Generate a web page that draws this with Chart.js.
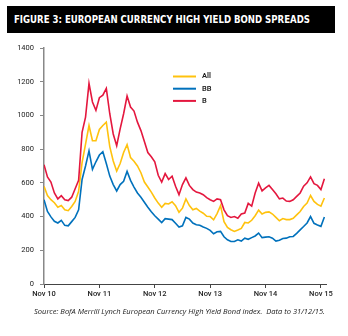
<!DOCTYPE html>
<html lang="en">
<head>
    <meta charset="UTF-8">
    <title>European Currency High Yield Bond Spreads</title>
    <script src="https://cdn.jsdelivr.net/npm/chart.js"></script>
    <style>
        html, body { margin: 0; padding: 0; background: #fff; }
        .wrap { position: relative; width: 348px; height: 336px; overflow: hidden; }
        .title {
            position: absolute; left: 7px; top: 6px; width: 328px; height: 27px;
            background: #000; overflow: hidden;
        }
        .title span {
            position: absolute; left: 7px; top: 0; line-height: 27px;
            color: #fff; font-family: "DejaVu Sans Condensed", "DejaVu Sans", sans-serif;
            font-weight: bold; font-size: 11px; white-space: nowrap;
            transform-origin: left center;
        }
        .source {
            position: absolute; left: 34px; top: 305px; line-height: 12px;
            font-family: "Open Sans", sans-serif; font-style: italic;
            font-size: 7.5px; color: #222; white-space: nowrap;
            transform-origin: left center;
        }
        #spreadChart { position: absolute; left: 0; top: 0; }
    </style>
</head>
<body>
<div class="wrap">
    <canvas id="spreadChart" width="348" height="336"></canvas>
    <div class="title"><span id="titleText">FIGURE 3: EUROPEAN CURRENCY HIGH YIELD BOND SPREADS</span></div>
    <div class="source" id="sourceText">Source: BofA Merrill Lynch European Currency High Yield Bond index.&nbsp;&nbsp;Data to 31/12/15.</div>
</div>

<script>
    // x axis: one tick per year, data sampled every 0.75 months from Nov 2010
    var tickLabels = ['Nov 10', 'Nov 11', 'Nov 12', 'Nov 13', 'Nov 14', 'Nov 15'];
    var stepMonths = 0.75;

    // spreads in basis points
    var allSeries = [
        580, 525, 500, 482, 455, 465, 440, 435, 460, 490,
        550, 720, 830, 940, 850, 850, 917, 940, 960, 815,
        730, 670, 715, 780, 827, 750, 728, 700, 660, 605,
        575, 545, 510, 480, 455, 478, 475, 488, 465, 425,
        450, 505, 465, 440, 448, 432, 420, 402, 400, 381,
        418, 465, 370, 335, 322, 312, 320, 330, 365, 362,
        378, 405, 438, 415, 425, 428, 415, 395, 375, 388,
        382, 382, 390, 410, 430, 460, 480, 525, 490, 472,
        462, 510
    ];
    var bbSeries = [
        500, 430, 398, 372, 362, 378, 348, 345, 370, 395,
        440, 620, 700, 790, 680, 725, 765, 785, 715, 640,
        590, 552, 590, 609, 668, 615, 575, 540, 515, 485,
        455, 428, 405, 385, 365, 388, 385, 382, 360, 338,
        345, 395, 385, 362, 352, 348, 338, 330, 318, 298,
        310, 312, 280, 262, 252, 252, 262, 255, 272, 265,
        275, 285, 302, 275, 278, 280, 272, 255, 260, 270,
        272, 280, 282, 300, 321, 341, 362, 400, 360, 350,
        342, 398
    ];
    var bSeries = [
        708, 635, 605, 540, 505, 524, 500, 495, 515, 565,
        615, 900, 990, 1190, 1080, 1030, 1105, 1120, 1160, 1010,
        890, 820, 920, 1010, 1115, 1050, 1026, 960, 910, 845,
        780, 755, 725, 645, 605, 655, 620, 639, 580, 530,
        590, 630, 585, 560, 545, 540, 530, 512, 500, 490,
        505, 500, 440, 405, 395, 400, 390, 415, 421, 478,
        462, 540, 598, 552, 570, 585, 560, 535, 505, 510,
        492, 490, 500, 520, 540, 580, 600, 635, 595, 585,
        560, 625
    ];

    // squeeze a text line horizontally to a given width
    function fitWidth(el, width) {
        var w = el.getBoundingClientRect().width;
        if (w > 0) el.style.transform = 'scaleX(' + (width / w) + ')';
    }
    fitWidth(document.getElementById('titleText'), 296);
    fitWidth(document.getElementById('sourceText'), 291);

    function toPoints(values) {
        return values.map(function (v, i) { return { x: i * stepMonths, y: v }; });
    }

    // small legend drawn inside the plot area
    var insideLegend = {
        id: 'insideLegend',
        afterDatasetsDraw: function (chart) {
            var ctx = chart.ctx;
            var area = chart.chartArea;
            var x0 = area.left + 129;
            var y0 = area.top + 28.5;
            ctx.save();
            chart.data.datasets.forEach(function (ds, i) {
                var y = y0 + i * 12.2;
                ctx.strokeStyle = ds.borderColor;
                ctx.lineWidth = 2;
                ctx.beginPath();
                ctx.moveTo(x0, y);
                ctx.lineTo(x0 + 23, y);
                ctx.stroke();
                ctx.fillStyle = '#222';
                ctx.font = '600 7.5px Roboto, sans-serif';
                ctx.textBaseline = 'middle';
                ctx.fillText(ds.label, x0 + 29, y);
            });
            ctx.restore();
        }
    };

    var lineStyle = { borderWidth: 1.6, pointRadius: 0, fill: false, tension: 0 };

    var ctx = document.getElementById('spreadChart').getContext('2d');
    var spreadChart = new Chart(ctx, {
        type: 'line',
        data: {
            datasets: [
                Object.assign({ label: 'All', data: toPoints(allSeries), borderColor: '#FFC20E', order: 2 }, lineStyle),
                Object.assign({ label: 'BB', data: toPoints(bbSeries), borderColor: '#0071BC', order: 3 }, lineStyle),
                Object.assign({ label: 'B', data: toPoints(bSeries), borderColor: '#E4173E', order: 1 }, lineStyle)
            ]
        },
        options: {
            responsive: false,
            animation: false,
            layout: { padding: { top: 48, right: 22, bottom: 0, left: 0 } },
            plugins: {
                legend: { display: false },
                tooltip: { enabled: false }
            },
            scales: {
                x: {
                    type: 'linear',
                    min: 0,
                    max: 61.1,
                    afterFit: function (scale) { scale.height = 52; },
                    afterBuildTicks: function (scale) {
                        scale.ticks = tickLabels.map(function (t, i) { return { value: i * 12 }; });
                    },
                    ticks: {
                        autoSkip: false,
                        maxRotation: 0,
                        padding: 2,
                        color: '#222',
                        font: { family: 'Roboto', size: 7.5, weight: '500' },
                        callback: function (value) { return tickLabels[Math.round(value / 12)]; }
                    },
                    grid: { display: true, drawOnChartArea: false, drawTicks: true, tickLength: 4, color: '#444', lineWidth: 1 },
                    border: { display: true, color: '#444', width: 1 }
                },
                y: {
                    min: 0,
                    max: 1400,
                    afterFit: function (scale) { scale.width = 44; },
                    ticks: {
                        stepSize: 200,
                        padding: 6,
                        color: '#222',
                        font: { family: 'Roboto', size: 7.5 },
                        callback: function (value) { return String(value); }
                    },
                    grid: { display: true, drawOnChartArea: false, drawTicks: true, tickLength: 4, color: '#888', lineWidth: 1 },
                    border: { display: true, color: '#888', width: 1.5 }
                }
            }
        },
        plugins: [insideLegend]
    });
</script>
</body>
</html>
